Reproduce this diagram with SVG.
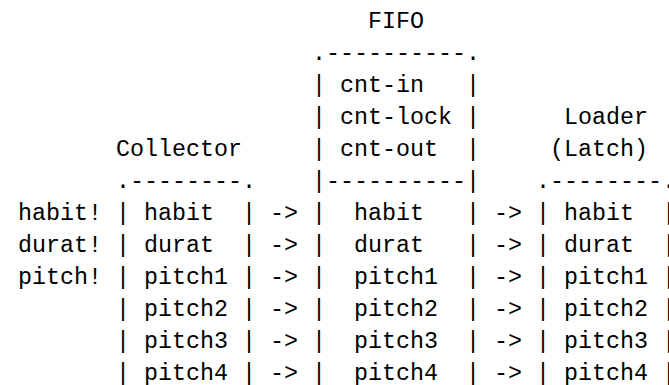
<svg xmlns="http://www.w3.org/2000/svg" width="669" height="385" viewBox="0 0 669 385">
<style>
text{font-family:"Liberation Mono","DejaVu Sans Mono",monospace;font-size:23.333px;fill:#000;white-space:pre}
</style>
<rect width="669" height="385" fill="#fff"/>
<g id="inputs" xml:space="preserve">
<text x="18" y="220">habit!</text>
<text x="18" y="252">durat!</text>
<text x="18" y="284">pitch!</text>
</g>
<g id="collector" xml:space="preserve">
<text x="116" y="156">Collector</text>
<text x="116" y="188">.--------.</text>
<text x="116" y="220">| habit  |</text>
<text x="116" y="252">| durat  |</text>
<text x="116" y="284">| pitch1 |</text>
<text x="116" y="316">| pitch2 |</text>
<text x="116" y="348">| pitch3 |</text>
<text x="116" y="380">| pitch4 |</text>
</g>
<g id="fifo" xml:space="preserve">
<text x="368" y="28">FIFO</text>
<text x="312" y="60">.----------.</text>
<text x="312" y="92">| cnt-in   |</text>
<text x="312" y="124">| cnt-lock |</text>
<text x="312" y="156">| cnt-out  |</text>
<text x="312" y="188">|----------|</text>
<text x="312" y="220">|  habit   |</text>
<text x="312" y="252">|  durat   |</text>
<text x="312" y="284">|  pitch1  |</text>
<text x="312" y="316">|  pitch2  |</text>
<text x="312" y="348">|  pitch3  |</text>
<text x="312" y="380">|  pitch4  |</text>
</g>
<g id="loader" xml:space="preserve">
<text x="564" y="124">Loader</text>
<text x="550" y="156">(Latch)</text>
<text x="536" y="188">.--------.</text>
<text x="536" y="220">| habit  |</text>
<text x="536" y="252">| durat  |</text>
<text x="536" y="284">| pitch1 |</text>
<text x="536" y="316">| pitch2 |</text>
<text x="536" y="348">| pitch3 |</text>
<text x="536" y="380">| pitch4 |</text>
</g>
<g id="connectors">
<text x="270" y="220">-&gt;</text>
<text x="270" y="252">-&gt;</text>
<text x="270" y="284">-&gt;</text>
<text x="270" y="316">-&gt;</text>
<text x="270" y="348">-&gt;</text>
<text x="270" y="380">-&gt;</text>
<text x="494" y="220">-&gt;</text>
<text x="494" y="252">-&gt;</text>
<text x="494" y="284">-&gt;</text>
<text x="494" y="316">-&gt;</text>
<text x="494" y="348">-&gt;</text>
<text x="494" y="380">-&gt;</text>
</g>
</svg>
